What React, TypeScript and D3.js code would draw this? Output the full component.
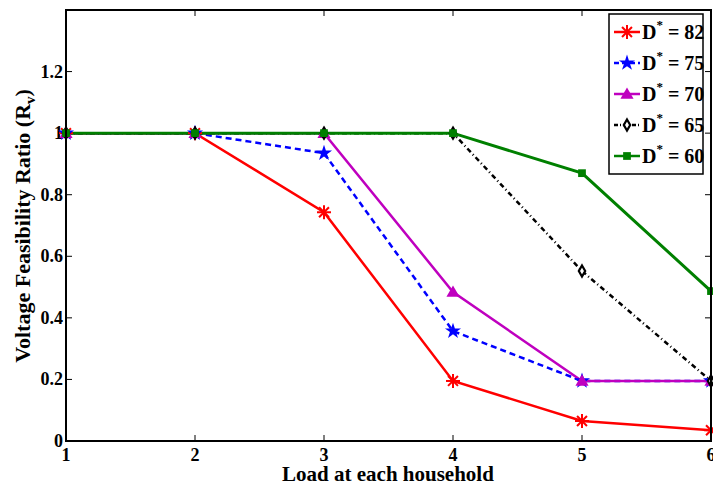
import React from "react";
import * as d3 from "d3";

const loads = [1, 2, 3, 4, 5, 6];
const d82 = [1, 1, 0.743, 0.195, 0.065, 0.035];
const d75 = [1, 1, 0.935, 0.357, 0.195, 0.195];
const d70 = [1, 1, 1, 0.484, 0.195, 0.195];
const d65 = [1, 1, 1, 1, 0.552, 0.195];
const d60 = [1, 1, 1, 1, 0.87, 0.487];
const legendLabels = ["82", "75", "70", "65", "60"];
const xTicks = [1, 2, 3, 4, 5, 6];
const yTicks = [0, 0.2, 0.4, 0.6, 0.8, 1, 1.2];

const W = 713, H = 486;
const left = 66, right = 711, top = 10, bottom = 441;
const font = "'Liberation Serif', 'Times New Roman', serif";

type Series = { vals: number[]; color: string; dash?: string; marker: string; label: string };

const series: Series[] = [
  { vals: d82, color: "#ff0000", marker: "asterisk", label: legendLabels[0] },
  { vals: d75, color: "#0000ff", dash: "6,4", marker: "star", label: legendLabels[1] },
  { vals: d70, color: "#bf00bf", marker: "triangle", label: legendLabels[2] },
  { vals: d65, color: "#000000", dash: "5,3,1,3", marker: "diamond", label: legendLabels[3] },
  { vals: d60, color: "#008000", marker: "square", label: legendLabels[4] },
];

function Marker({ type, x, y, color }: { type: string; x: number; y: number; color: string }) {
  if (type === "asterisk") {
    const r = 7;
    const lines = [0, 45, 90, 135].map((a) => {
      const rad = (a * Math.PI) / 180;
      return (
        <line key={a} x1={x - r * Math.cos(rad)} y1={y - r * Math.sin(rad)} x2={x + r * Math.cos(rad)} y2={y + r * Math.sin(rad)} stroke={color} strokeWidth={2} />
      );
    });
    return <g>{lines}</g>;
  }
  if (type === "star") {
    const p = d3.symbol(d3.symbolStar, 80)();
    return <path d={p || ""} transform={`translate(${x},${y})`} fill={color} />;
  }
  if (type === "triangle") {
    const p = d3.symbol(d3.symbolTriangle, 75)();
    return <path d={p || ""} transform={`translate(${x},${y + 1})`} fill={color} />;
  }
  if (type === "diamond") {
    const p = d3.symbol(d3.symbolDiamond, 35)();
    return <path d={p || ""} transform={`translate(${x},${y})`} fill="white" stroke={color} strokeWidth={2.2} />;
  }
  const p = d3.symbol(d3.symbolSquare, 60)();
  return <path d={p || ""} transform={`translate(${x},${y})`} fill={color} />;
}

export default function App() {
  const x = d3.scaleLinear().domain([1, 6]).range([left, right]);
  const y = d3.scaleLinear().domain([0, 1.4]).range([bottom, top]);
  const line = d3
    .line<number>()
    .x((_, i) => x(loads[i]))
    .y((d) => y(d));

  const tl = 6;
  const legX = 609, legY = 14, legW = 94, legH = 160;

  return (
    <svg width={W} height={H} style={{ position: "absolute", left: 0, top: 0, background: "white" }} fontFamily={font}>
      <rect x={0} y={0} width={W} height={H} fill="white" />
      {xTicks.map((t) => (
        <g key={"x" + t}>
          <line x1={x(t)} x2={x(t)} y1={bottom} y2={bottom - tl} stroke="#000" strokeWidth={1} />
          <line x1={x(t)} x2={x(t)} y1={top} y2={top + tl} stroke="#000" strokeWidth={1} />
          <text x={x(t)} y={bottom + 20} textAnchor="middle" fontSize={18} fontWeight="bold">{t}</text>
        </g>
      ))}
      {yTicks.map((t) => (
        <g key={"y" + t}>
          <line x1={left} x2={left + tl} y1={y(t)} y2={y(t)} stroke="#000" strokeWidth={1} />
          <line x1={right} x2={right - tl} y1={y(t)} y2={y(t)} stroke="#000" strokeWidth={1} />
          <text x={left - 3} y={y(t) + 6} textAnchor="end" fontSize={18} fontWeight="bold">{t === 0 || t === 1 ? String(t) : t.toFixed(1)}</text>
        </g>
      ))}
      {series.map((s, i) => (
        <path key={"l" + i} d={line(s.vals) || ""} fill="none" stroke={s.color} strokeWidth={s.marker === "square" ? 3 : 2.5} strokeDasharray={s.dash} />
      ))}
      {series.map((s, i) => (
        <g key={"m" + i}>
          {s.vals.map((v, j) => (
            <Marker key={j} type={s.marker} x={x(loads[j])} y={y(v)} color={s.color} />
          ))}
        </g>
      ))}
      <rect x={left} y={top} width={right - left} height={bottom - top} fill="none" stroke="#000" strokeWidth={2} />
      <rect x={legX} y={legY} width={legW} height={legH} fill="white" stroke="#000" strokeWidth={1.5} />
      {series.map((s, i) => {
        const ly = 32 + i * 31;
        return (
          <g key={"lg" + i}>
            <line x1={614} x2={640} y1={ly} y2={ly} stroke={s.color} strokeWidth={2.5} strokeDasharray={s.dash ? (s.marker === "star" ? "5,3" : "4,2,1,2") : undefined} />
            <Marker type={s.marker} x={627} y={ly} color={s.color} />
            <text x={642} y={ly + 7} fontSize={20} fontWeight="bold">
              D<tspan dy={-10} fontSize={13}>*</tspan><tspan dy={10}> = {s.label}</tspan>
            </text>
          </g>
        );
      })}
      <text x={388} y={481} textAnchor="middle" fontSize={21} fontWeight="bold">Load at each household</text>
      <text transform={`translate(30,${226}) rotate(-90)`} textAnchor="middle" fontSize={22} fontWeight="bold">
        Voltage Feasibility Ratio (R<tspan dy={5} fontSize={15}>v</tspan><tspan dy={-5}>)</tspan>
      </text>
    </svg>
  );
}
